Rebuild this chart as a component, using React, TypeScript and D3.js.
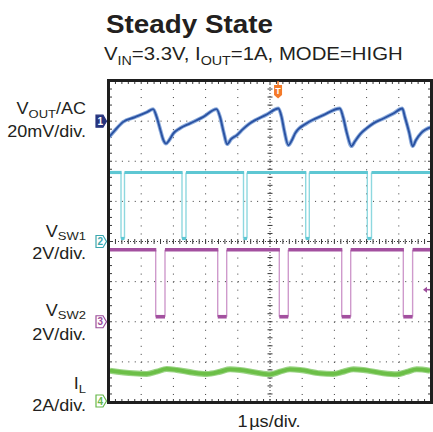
import React from "react";
import * as d3 from "d3";

// ---------- data ----------
// time axis: 1 µs/div, 10 divisions
const voutT = [0, 0.19, 0.43, 0.81, 1.18, 1.37, 1.48, 1.58, 1.69, 1.77, 1.87, 2.0, 2.2, 2.52, 2.93, 3.34, 3.45, 3.56, 3.67, 3.79, 3.97, 4.16, 4.38, 4.9, 5.26, 5.36, 5.44, 5.57, 5.68, 5.78, 6.14, 6.66, 7.17, 7.27, 7.38, 7.53, 7.64, 7.8, 8.0, 8.21, 8.52, 8.83, 9.11, 9.19, 9.32, 9.43, 9.53, 9.69, 10.0];
const voutMv = [-8.0, -4.5, -0.5, 2.0, 4.5, 6.0, 2.1, -3.5, -9.5, -11.2, -9.5, -6.1, -3.6, -1.1, 2.1, 6.0, 2.0, -5.5, -11.5, -9.0, -7.0, -4.0, -1.1, 3.3, 6.3, 2.1, -4.5, -12.0, -9.5, -6.1, -1.1, 3.0, 6.3, 2.0, -5.5, -12.5, -10.0, -6.5, -3.6, -1.1, 1.3, 3.8, 6.3, 2.0, -5.5, -12.5, -9.5, -6.0, -3.0];

const sw1FallT = [0.373, 2.267, 4.177, 6.109, 8.022];
const sw1RiseT = [0.481, 2.391, 4.286, 6.221, 8.152];
const sw1HighV = 3.44;
const sw1LowV = 0.15;

const sw2FallT = [1.45, 3.376, 5.289, 7.227, 9.14];
const sw2RiseT = [1.739, 3.655, 5.568, 7.506, 9.429];
const sw2HighV = 3.59;
const sw2LowV = 0.25;

const ilT = [0.03, 0.755, 1.171, 1.481, 1.792, 2.102, 2.618, 3.034, 3.447, 3.758, 4.068, 4.587, 5.0, 5.311, 5.621, 5.932, 6.553, 6.966, 7.276, 7.587, 7.898, 8.519, 8.935, 9.245, 9.556, 9.969];
const ilA = [1.56, 1.43, 1.4, 1.51, 1.65, 1.6, 1.46, 1.4, 1.51, 1.63, 1.6, 1.46, 1.38, 1.51, 1.63, 1.6, 1.43, 1.4, 1.51, 1.63, 1.6, 1.43, 1.38, 1.5, 1.63, 1.56];

// channel settings: [offset in divisions, units per division]
const ch1 = { offset: 7, perDiv: 20 }; // mV
const ch2 = { offset: 4, perDiv: 2 }; // V
const ch3 = { offset: 2, perDiv: 2 }; // V
const ch4 = { offset: 0, perDiv: 2 }; // A
const triggerT = 5.25;
const triggerLevelV = 1.6; // on ch3

// ---------- layout ----------
const L = 109, T = 81, W = 322, H = 321;
const FONT = "'Liberation Sans', Arial, Helvetica, sans-serif";

const x = d3.scaleLinear().domain([0, 10]).range([L, L + W]);
const yDiv = d3.scaleLinear().domain([0, 8]).range([T + H, T]);
const yCh = (ch: { offset: number; perDiv: number }, v: number) => yDiv(ch.offset + v / ch.perDiv);

function Label({ x0, y0, main, sub, after, size = 16.4, anchor = "end", bold = false, subDy = 0.26 }: any) {
  return (
    <text transform={`translate(${x0},${y0}) scale(1.1,1)`} textAnchor={anchor} fontFamily={FONT} fontSize={size} fill="#231f20" fontWeight={bold ? "bold" : "normal"}>
      {main}
      {sub ? <tspan fontSize={size * 0.72} dy={size * subDy}>{sub}</tspan> : null}
      {after ? <tspan dy={-size * subDy}>{after}</tspan> : null}
    </text>
  );
}

function Marker({ cy, n, color, filled }: { cy: number; n: string; color: string; filled?: boolean }) {
  const x0 = 96;
  const pts = [[x0, cy - 6], [x0 + 7, cy - 6], [x0 + 10.5, cy], [x0 + 7, cy + 6], [x0, cy + 6]].map((p) => p.join(",")).join(" ");
  return (
    <g>
      <polygon points={pts} fill={filled ? color : "#fff"} stroke={color} strokeWidth={1.2} />
      <text x={x0 + 4.2} y={cy + 3.6} textAnchor="middle" fontFamily={FONT} fontSize={10} fontWeight="bold" fill={filled ? "#fff" : color}>{n}</text>
    </g>
  );
}

function Pulses({ ch, fall, rise, high, low, color, edge, width }: any) {
  const highSegs: [number, number][] = [];
  let start = 0;
  fall.forEach((f: number, i: number) => {
    highSegs.push([start, f]);
    start = rise[i];
  });
  highSegs.push([start, 10]);
  const yh = yCh(ch, high);
  const yl = yCh(ch, low);
  return (
    <g>
      {fall.map((f: number, i: number) => (
        <g key={i}>
          <line x1={x(f)} x2={x(f)} y1={yh} y2={yl} stroke={edge} strokeWidth={1.4} />
          <line x1={x(rise[i])} x2={x(rise[i])} y1={yh} y2={yl} stroke={edge} strokeWidth={1.4} />
          <line x1={x(f)} x2={x(rise[i])} y1={yl} y2={yl} stroke={color} strokeWidth={width} />
        </g>
      ))}
      {highSegs.map(([a, b], i) => (
        <line key={"h" + i} x1={x(a)} x2={x(b) + 0.6} y1={yh} y2={yh} stroke={color} strokeWidth={width} />
      ))}
    </g>
  );
}

export default function App() {
  const voutLine = d3
    .line<number>()
    .x((_, i) => x(voutT[i]))
    .y((v) => yCh(ch1, v))
    .curve(d3.curveMonotoneX)(voutMv) as string;
  const ilLine = d3
    .line<number>()
    .x((_, i) => x(ilT[i]))
    .y((v) => yCh(ch4, v))
    .curve(d3.curveMonotoneX)(ilA) as string;

  const subX = d3.range(0, 51).map((i) => i / 5);
  const subY = d3.range(0, 41).map((i) => i / 5);
  const gridCol = "#3a3a3a";

  return (
    <svg width={433} height={432} style={{ position: "absolute", left: 0, top: 0, background: "#fff" }}>
      {/* title */}
      <Label x0={106} y0={33} main="Steady State" size={25.3} anchor="start" bold />
      <text transform="translate(104,60) scale(1.1,1)" fontFamily={FONT} fontSize={18.5} fill="#231f20">
        V<tspan fontSize={13} dy={5}>IN</tspan>
        <tspan dy={-5}>=3.3V, I</tspan>
        <tspan fontSize={13} dy={5}>OUT</tspan>
        <tspan dy={-5}>=1A, MODE=HIGH</tspan>
      </text>

      {/* grid */}
      <g>
        {d3.range(1, 10).filter((i) => i !== 5).map((i) => (
          <line key={"v" + i} x1={x(i)} x2={x(i)} y1={T} y2={T + H} stroke={gridCol} strokeWidth={1} strokeDasharray={`1 ${H / 40 - 1}`} />
        ))}
        {d3.range(1, 8).filter((j) => j !== 4).map((j) => (
          <line key={"h" + j} x1={L} x2={L + W} y1={yDiv(j)} y2={yDiv(j)} stroke={gridCol} strokeWidth={1} strokeDasharray={`1 ${W / 50 - 1}`} />
        ))}
        {/* center axes */}
        <line x1={x(5)} x2={x(5)} y1={T} y2={T + H} stroke={gridCol} strokeWidth={1} strokeDasharray="1 2" />
        <line x1={L} x2={L + W} y1={yDiv(4)} y2={yDiv(4)} stroke={gridCol} strokeWidth={1} strokeDasharray="1 2" />
        {subY.map((d, i) => (
          <line key={"cy" + i} x1={x(5) - 2.5} x2={x(5) + 2.5} y1={yDiv(d)} y2={yDiv(d)} stroke={gridCol} strokeWidth={1} />
        ))}
        {subX.map((d, i) => (
          <line key={"cx" + i} x1={x(d)} x2={x(d)} y1={yDiv(4) - 2.5} y2={yDiv(4) + 2.5} stroke={gridCol} strokeWidth={1} />
        ))}
        {/* border ticks */}
        {subX.map((d, i) => (
          <g key={"bx" + i}>
            <line x1={x(d)} x2={x(d)} y1={T} y2={T + 3} stroke={gridCol} strokeWidth={1} />
            <line x1={x(d)} x2={x(d)} y1={T + H - 3} y2={T + H} stroke={gridCol} strokeWidth={1} />
          </g>
        ))}
        {subY.map((d, i) => (
          <g key={"by" + i}>
            <line x1={L} x2={L + 3} y1={yDiv(d)} y2={yDiv(d)} stroke={gridCol} strokeWidth={1} />
            <line x1={L + W - 3} x2={L + W} y1={yDiv(d)} y2={yDiv(d)} stroke={gridCol} strokeWidth={1} />
          </g>
        ))}
      </g>

      {/* traces */}
      <path d={voutLine} fill="none" stroke="#8eaddd" strokeWidth={3.8} strokeLinejoin="round" />
      <path d={voutLine} fill="none" stroke="#2a52a2" strokeWidth={1.9} strokeLinejoin="round" />

      <Pulses ch={ch2} fall={sw1FallT} rise={sw1RiseT} high={sw1HighV} low={sw1LowV} color="#5ec7d3" edge="#8ed8df" width={3.2} />
      <Pulses ch={ch3} fall={sw2FallT} rise={sw2RiseT} high={sw2HighV} low={sw2LowV} color="#a3509f" edge="#cf9acc" width={3.6} />

      <path d={ilLine} fill="none" stroke="#9bd485" strokeWidth={6} strokeLinejoin="round" />
      <path d={ilLine} fill="none" stroke="#6cbf47" strokeWidth={3.8} strokeLinejoin="round" />

      {/* frame */}
      <rect x={L - 0.5} y={T - 0.5} width={W + 1} height={H + 1} fill="none" stroke="#1e1e1e" strokeWidth={3} />

      {/* trigger marker */}
      <g>
        <line x1={x(triggerT)} x2={x(triggerT)} y1={T} y2={T + 4} stroke="#f47a2a" strokeWidth={1.5} />
        <path d={`M${x(triggerT) - 4},${T + 4} h8 v10 l-4,3.5 l-4,-3.5 z`} fill="#f47a2a" />
        <text x={x(triggerT)} y={T + 13} textAnchor="middle" fontFamily={FONT} fontSize={9} fontWeight="bold" fill="#fff">T</text>
      </g>
      {/* trigger level arrow on ch3 */}
      <g>
        <polygon points={`${L + W - 8},${yCh(ch3, triggerLevelV)} ${L + W - 4},${yCh(ch3, triggerLevelV) - 3} ${L + W - 4},${yCh(ch3, triggerLevelV) + 3}`} fill="#9c4d9b" />
        <line x1={L + W - 5} x2={L + W - 1} y1={yCh(ch3, triggerLevelV)} y2={yCh(ch3, triggerLevelV)} stroke="#9c4d9b" strokeWidth={1.5} />
      </g>

      {/* channel markers */}
      <Marker cy={yDiv(ch1.offset)} n="1" color="#27347e" filled />
      <Marker cy={yDiv(ch2.offset)} n="2" color="#3aa7ae" />
      <Marker cy={yDiv(ch3.offset)} n="3" color="#9c4d9b" />
      <Marker cy={yDiv(ch4.offset) - 1} n="4" color="#66b84a" />

      {/* channel labels */}
      <Label x0={86} y0={114} main="V" sub="OUT" after="/AC" />
      <Label x0={86} y0={137} main="20mV/div." />
      <Label x0={86} y0={237} main="V" sub="SW1" subDy={0.2} />
      <Label x0={86} y0={259} main="2V/div." />
      <Label x0={86} y0={316} main="V" sub="SW2" subDy={0.2} />
      <Label x0={86} y0={340} main="2V/div." />
      <Label x0={86} y0={389} main="I" sub="L" subDy={0.22} />
      <Label x0={86} y0={411} main="2A/div." />

      {/* time base */}
      <text transform="translate(269,427) scale(1.1,1)" textAnchor="middle" fontFamily={FONT} fontSize={16.5} fill="#231f20">
        1<tspan dx={1.5}>µs/div.</tspan>
      </text>
    </svg>
  );
}
